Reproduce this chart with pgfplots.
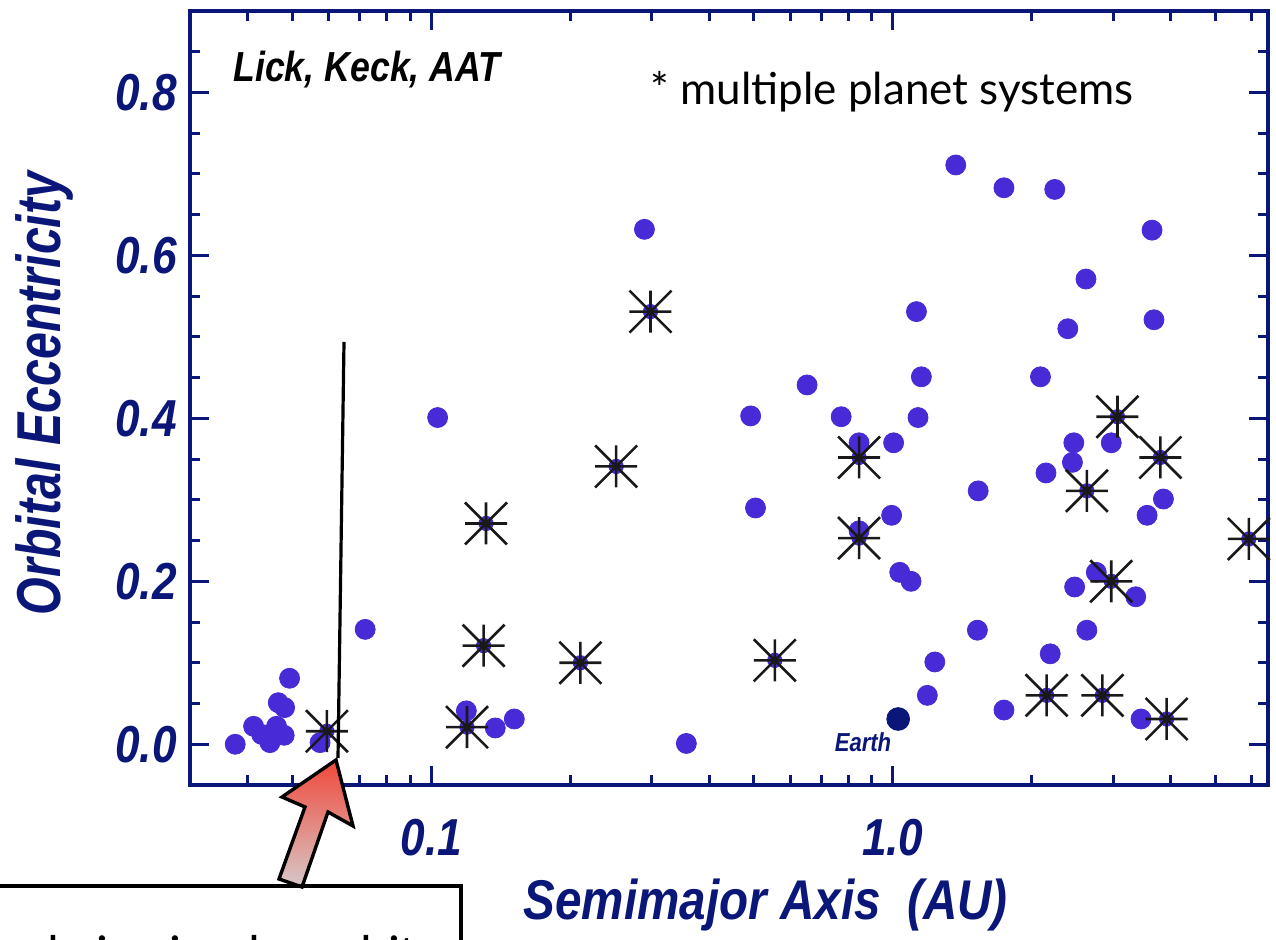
\documentclass[border=0pt]{standalone}
\usepackage{fontspec}
\setmainfont{Liberation Sans}
\newfontfamily\lab{Liberation Sans}[FakeStretch=0.85]
\newfontfamily\labc{Liberation Sans}[FakeStretch=0.78]
\newfontfamily\gill{Lato}
\newfontfamily\calib{Carlito}
\usepackage{pgfplots}
\usepackage{pgfplotstable}
\pgfplotsset{compat=1.18}
\usetikzlibrary{plotmarks}

\definecolor{navyax}{RGB}{10,22,120}
\definecolor{dotblue}{RGB}{72,42,214}
\definecolor{starblk}{RGB}{25,25,25}
\definecolor{arrtop}{RGB}{240,72,58}
\definecolor{arrbot}{RGB}{214,200,200}

% eight-armed asterisk that marks the multi-planet systems
\pgfdeclareplotmark{ast8}{%
  \pgfpathmoveto{\pgfqpoint{-\pgfplotmarksize}{0pt}}%
  \pgfpathlineto{\pgfqpoint{\pgfplotmarksize}{0pt}}%
  \pgfpathmoveto{\pgfqpoint{0pt}{-\pgfplotmarksize}}%
  \pgfpathlineto{\pgfqpoint{0pt}{\pgfplotmarksize}}%
  \pgfpathmoveto{\pgfqpoint{-\pgfplotmarksize}{-\pgfplotmarksize}}%
  \pgfpathlineto{\pgfqpoint{\pgfplotmarksize}{\pgfplotmarksize}}%
  \pgfpathmoveto{\pgfqpoint{-\pgfplotmarksize}{\pgfplotmarksize}}%
  \pgfpathlineto{\pgfqpoint{\pgfplotmarksize}{-\pgfplotmarksize}}%
  \pgfusepathqstroke}

\pgfplotstableread{
a e
0.0376 0.000
0.0412 0.022
0.0429 0.012
0.0447 0.002
0.0462 0.022
0.0480 0.011
0.0466 0.051
0.0481 0.045
0.0493 0.081
0.0574 0.002
0.0719 0.141
0.1032 0.401
0.1191 0.041
0.1376 0.020
0.1513 0.031
0.2896 0.632
0.357 0.001
0.492 0.403
0.504 0.290
0.652 0.441
0.773 0.402
0.845 0.370
0.845 0.262
0.994 0.281
1.004 0.370
1.035 0.211
1.095 0.200
1.125 0.531
1.134 0.401
1.153 0.451
1.188 0.060
1.233 0.101
1.369 0.711
1.525 0.140
1.531 0.311
1.741 0.683
1.741 0.042
2.089 0.451
2.147 0.333
2.193 0.111
2.243 0.681
2.394 0.510
2.45 0.346
2.467 0.370
2.477 0.193
2.621 0.571
2.633 0.140
2.760 0.211
2.974 0.370
3.360 0.181
3.45 0.031
3.556 0.281
3.645 0.631
3.68 0.521
3.858 0.301
}\single

\pgfplotstableread{
a e
0.0594 0.016
0.1195 0.021
0.1298 0.121
0.1314 0.271
0.2104 0.100
0.2515 0.341
0.2985 0.531
0.555 0.103
0.845 0.352
0.845 0.253
2.154 0.060
2.633 0.311
2.845 0.060
2.974 0.200
3.067 0.402
3.80 0.352
3.92 0.031
5.907 0.252
}\multi

\begin{document}
\begin{tikzpicture}
\useasboundingbox (0,0) rectangle (638pt,470pt);
\begin{axis}[
  at={(95pt,77.5pt)}, anchor=south west,
  scale only axis, width=539pt, height=387pt,
  xmode=log, xmin=0.03, xmax=6.5,
  ymin=-0.05, ymax=0.9,
  clip=false,
  axis line style={draw=navyax, line width=1.8pt},
  tick style={draw=navyax, line width=1.5pt},
  xtick={0.1,1}, xticklabels={0.1,1.0},
  minor xtick={0.04,0.05,0.06,0.07,0.08,0.09,0.2,0.3,0.4,0.5,0.6,0.7,0.8,0.9,2,3,4,5,6},
  ytick={0,0.2,0.4,0.6,0.8}, yticklabels={0.0,0.2,0.4,0.6,0.8},
  minor ytick={-0.05,0,0.05,...,0.9},
  tick align=inside,
  major tick length=9.5pt, minor tick length=5pt,
  ticklabel style={text=navyax, font=\lab\bfseries\itshape\fontsize{26}{26}\selectfont, inner sep=0pt},
  xticklabel style={anchor=north, yshift=-17pt},
  yticklabel style={anchor=east, xshift=-6.5pt},
  xlabel={Semimajor Axis\ \ (AU)},
  ylabel={Orbital Eccentricity},
  xlabel style={text=navyax, font=\lab\bfseries\itshape\fontsize{28}{28}\selectfont,
    at={(axis description cs:0.534,-0.155)}, anchor=center},
  ylabel style={text=navyax, font=\labc\bfseries\itshape\fontsize{31}{31}\selectfont,
    at={(axis description cs:-0.135,0.506)}, anchor=center},
]
\addplot[only marks, mark=*, mark size=5pt, color=dotblue] table[x=a, y=e] {\single};
\addplot[only marks, mark=*, mark size=3.6pt, color=dotblue] table[x=a, y=e] {\multi};
\addplot[only marks, mark=ast8, mark size=10.5pt, color=starblk, line width=1.3pt] table[x=a, y=e] {\multi};
% the Earth
\addplot[only marks, mark=*, mark size=5.7pt, color=navyax] coordinates {(1.027,0.031)};
\end{axis}

% annotations, in pixel units of the 1276x940 picture
\begin{scope}[shift={(0pt,470pt)}, x=0.5pt, y=-0.5pt]
  \node[anchor=base west, inner sep=0pt, font=\lab\bfseries\itshape\fontsize{21}{21}\selectfont, text=black]
    at (233,82) {Lick, Keck, AAT};
  \node[anchor=base west, inner sep=0pt, font=\gill\fontsize{22}{22}\selectfont, text=black]
    at (650,105) {* multiple planet systems};
  \node[anchor=center, font=\lab\bfseries\itshape\fontsize{13}{13}\selectfont, text=navyax]
    at (863,742) {Earth};
  \draw[line width=1.6pt, black] (344,342) -- (338,758);
  \path[draw=black, line width=1.7pt, top color=arrtop, bottom color=arrbot]
    (336,760) -- (353,826) -- (328,812) -- (302,887) -- (279,879) -- (305,807) -- (282,797) -- cycle;
  \draw[line width=1.7pt, black] (-5,886) -- (461,886) -- (461,950);
  % text of the call-out box, cut off by the lower edge of the slide
  \node[anchor=base west, inner sep=0pt, font=\calib\fontsize{26}{26}\selectfont, text=black]
    at (-37,972) {single in circular orbits};
\end{scope}
\end{tikzpicture}
\end{document}
